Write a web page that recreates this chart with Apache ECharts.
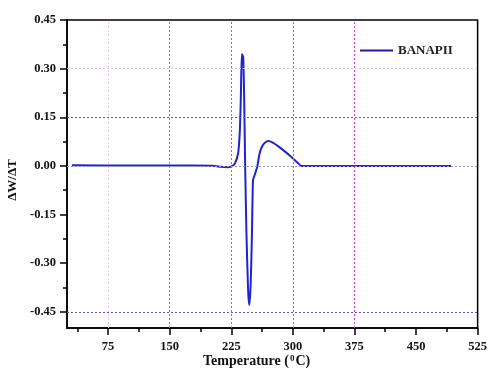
<!DOCTYPE html>
<html>
<head>
<meta charset="utf-8">
<script src="https://cdn.jsdelivr.net/npm/echarts@6/dist/echarts.min.js"></script>
<style>html,body{margin:0;padding:0;background:#fff}#c{width:490px;height:376px}</style>
</head>
<body>
<div id="c"></div>
<script>
var temps = [31, 100, 180, 205.7, 212, 221.4, 226, 229.5, 233.4, 235.5, 236.7, 237.9, 239.5, 240.7, 241.9, 243.4, 245.5, 247.0, 248.7, 250.3, 251.5, 253.6, 256.7, 259.6, 263.6, 269.6, 275.6, 285.6, 297.6, 305.7, 310.5, 400, 492.5];
var values = [0.002, 0.001, 0.001, 0.0, -0.003, -0.004, -0.001, 0.008, 0.039, 0.111, 0.214, 0.345, 0.337, 0.214, 0.008, -0.197, -0.382, -0.429, -0.362, -0.197, -0.043, -0.028, -0.002, 0.039, 0.065, 0.077, 0.072, 0.054, 0.029, 0.010, 0.0, 0.0, 0.0];
var xMajor = [75, 150, 225, 300, 375, 450, 525];
var xMinor = [37.5, 112.5, 187.5, 262.5, 337.5, 412.5, 487.5];
var yMajor = [-0.45, -0.30, -0.15, 0.00, 0.15, 0.30, 0.45];
var yMinor = [-0.375, -0.225, -0.075, 0.075, 0.225, 0.375];
var vGrid = [75, 150, 225, 300, 375];
var hGrid = [0.30, 0.15, 0.00, -0.45];
var seriesName = 'BANAPII';

var serif = '"Liberation Serif", "DejaVu Serif", serif';
var data = temps.map(function (t, i) { return [t, values[i]]; });
var vColors = ['#f2c6f2', '#dd44dd', '#dd44dd', '#dd44dd', '#dd44dd'];
var hColors = ['#cfcfdc', '#5a5aa6', '#9a9ab8', '#5a5aa6'];

var vMark = vGrid.map(function (v, i) {
  return { xAxis: v, lineStyle: { color: vColors[i], type: [2, 2], width: 1 } };
});
var hMark = hGrid.map(function (v, i) {
  return { yAxis: v, lineStyle: { color: hColors[i], type: [2, 2], width: 1 } };
});

var chart = echarts.init(document.getElementById('c'), null, { renderer: 'canvas' });
chart.setOption({
  animation: false,
  backgroundColor: '#fff',
  grid: { left: 67, right: 8, top: 20, bottom: 48, show: true, borderColor: '#000', borderWidth: 1.5, containLabel: false },
  legend: {
    data: [{ name: seriesName, icon: 'rect' }],
    left: 355, top: 39,
    itemWidth: 33, itemHeight: 2, itemGap: 5,
    itemStyle: { color: '#1c1c9c' },
    textStyle: { fontFamily: serif, fontWeight: 'bold', fontSize: 13, color: '#222' }
  },
  xAxis: [{
    type: 'value', min: 25, max: 525, position: 'bottom',
    axisLine: { onZero: false, lineStyle: { color: '#000', width: 1.5 } },
    axisTick: { show: true, customValues: xMajor, length: 7, lineStyle: { color: '#000', width: 1.5 } },
    axisLabel: { customValues: xMajor, margin: 12, fontFamily: serif, fontWeight: 'bold', fontSize: 12.5, color: '#111' },
    splitLine: { show: false }
  }, {
    type: 'value', min: 25, max: 525, position: 'bottom', offset: 0,
    axisLine: { show: false, onZero: false },
    axisTick: { show: true, customValues: xMinor, length: 4, lineStyle: { color: '#000', width: 1.5 } },
    axisLabel: { show: false },
    splitLine: { show: false }
  }],
  yAxis: [{
    type: 'value', min: -0.5, max: 0.45, position: 'left',
    axisLine: { show: true, onZero: false, lineStyle: { color: '#000', width: 1.5 } },
    axisTick: { show: true, customValues: yMajor, length: 7, lineStyle: { color: '#000', width: 1.5 } },
    axisLabel: { customValues: yMajor, margin: 11, fontFamily: serif, fontWeight: 'bold', fontSize: 12.5, color: '#111',
      formatter: function (v) { return v.toFixed(2); } },
    splitLine: { show: false }
  }, {
    type: 'value', min: -0.5, max: 0.45, position: 'left', offset: 0,
    axisLine: { show: false, onZero: false },
    axisTick: { show: true, customValues: yMinor, length: 4, lineStyle: { color: '#000', width: 1.5 } },
    axisLabel: { show: false },
    splitLine: { show: false }
  }],
  graphic: [{
    type: 'text', left: 203, top: 354,
    style: {
      text: '{n|Temperature (}{s|0}{n|C)}',
      rich: {
        n: { fontFamily: serif, fontWeight: 'bold', fontSize: 14, fill: '#111' },
        s: { fontFamily: serif, fontWeight: 'bold', fontSize: 9, fill: '#111', verticalAlign: 'top', padding: [0, 1, 6, 1] }
      }
    }
  }, {
    type: 'text', x: 13, y: 180, rotation: Math.PI / 2,
    style: { text: 'ΔW/ΔT', fontFamily: serif, fontWeight: 'bold', fontSize: 13, fill: '#111', align: 'center', verticalAlign: 'middle' }
  }],
  series: [{
    type: 'line', name: '_vgrid', data: [], z: 1, silent: true,
    markLine: { silent: true, symbol: 'none', label: { show: false }, lineStyle: { color: '#dd44dd', type: [2, 2], width: 1 }, data: vMark, animation: false }
  }, {
    type: 'line', name: '_hgrid', data: [], z: 1, silent: true,
    markLine: { silent: true, symbol: 'none', label: { show: false }, lineStyle: { color: '#5a5aa6', type: [2, 2], width: 1 }, data: hMark, animation: false }
  }, {
    type: 'line', name: seriesName, data: data, z: 3,
    symbol: 'none', smooth: 0.2,
    lineStyle: { color: '#2222d0', width: 2 },
    itemStyle: { color: '#2222d0' }
  }]
});
</script>
</body>
</html>
